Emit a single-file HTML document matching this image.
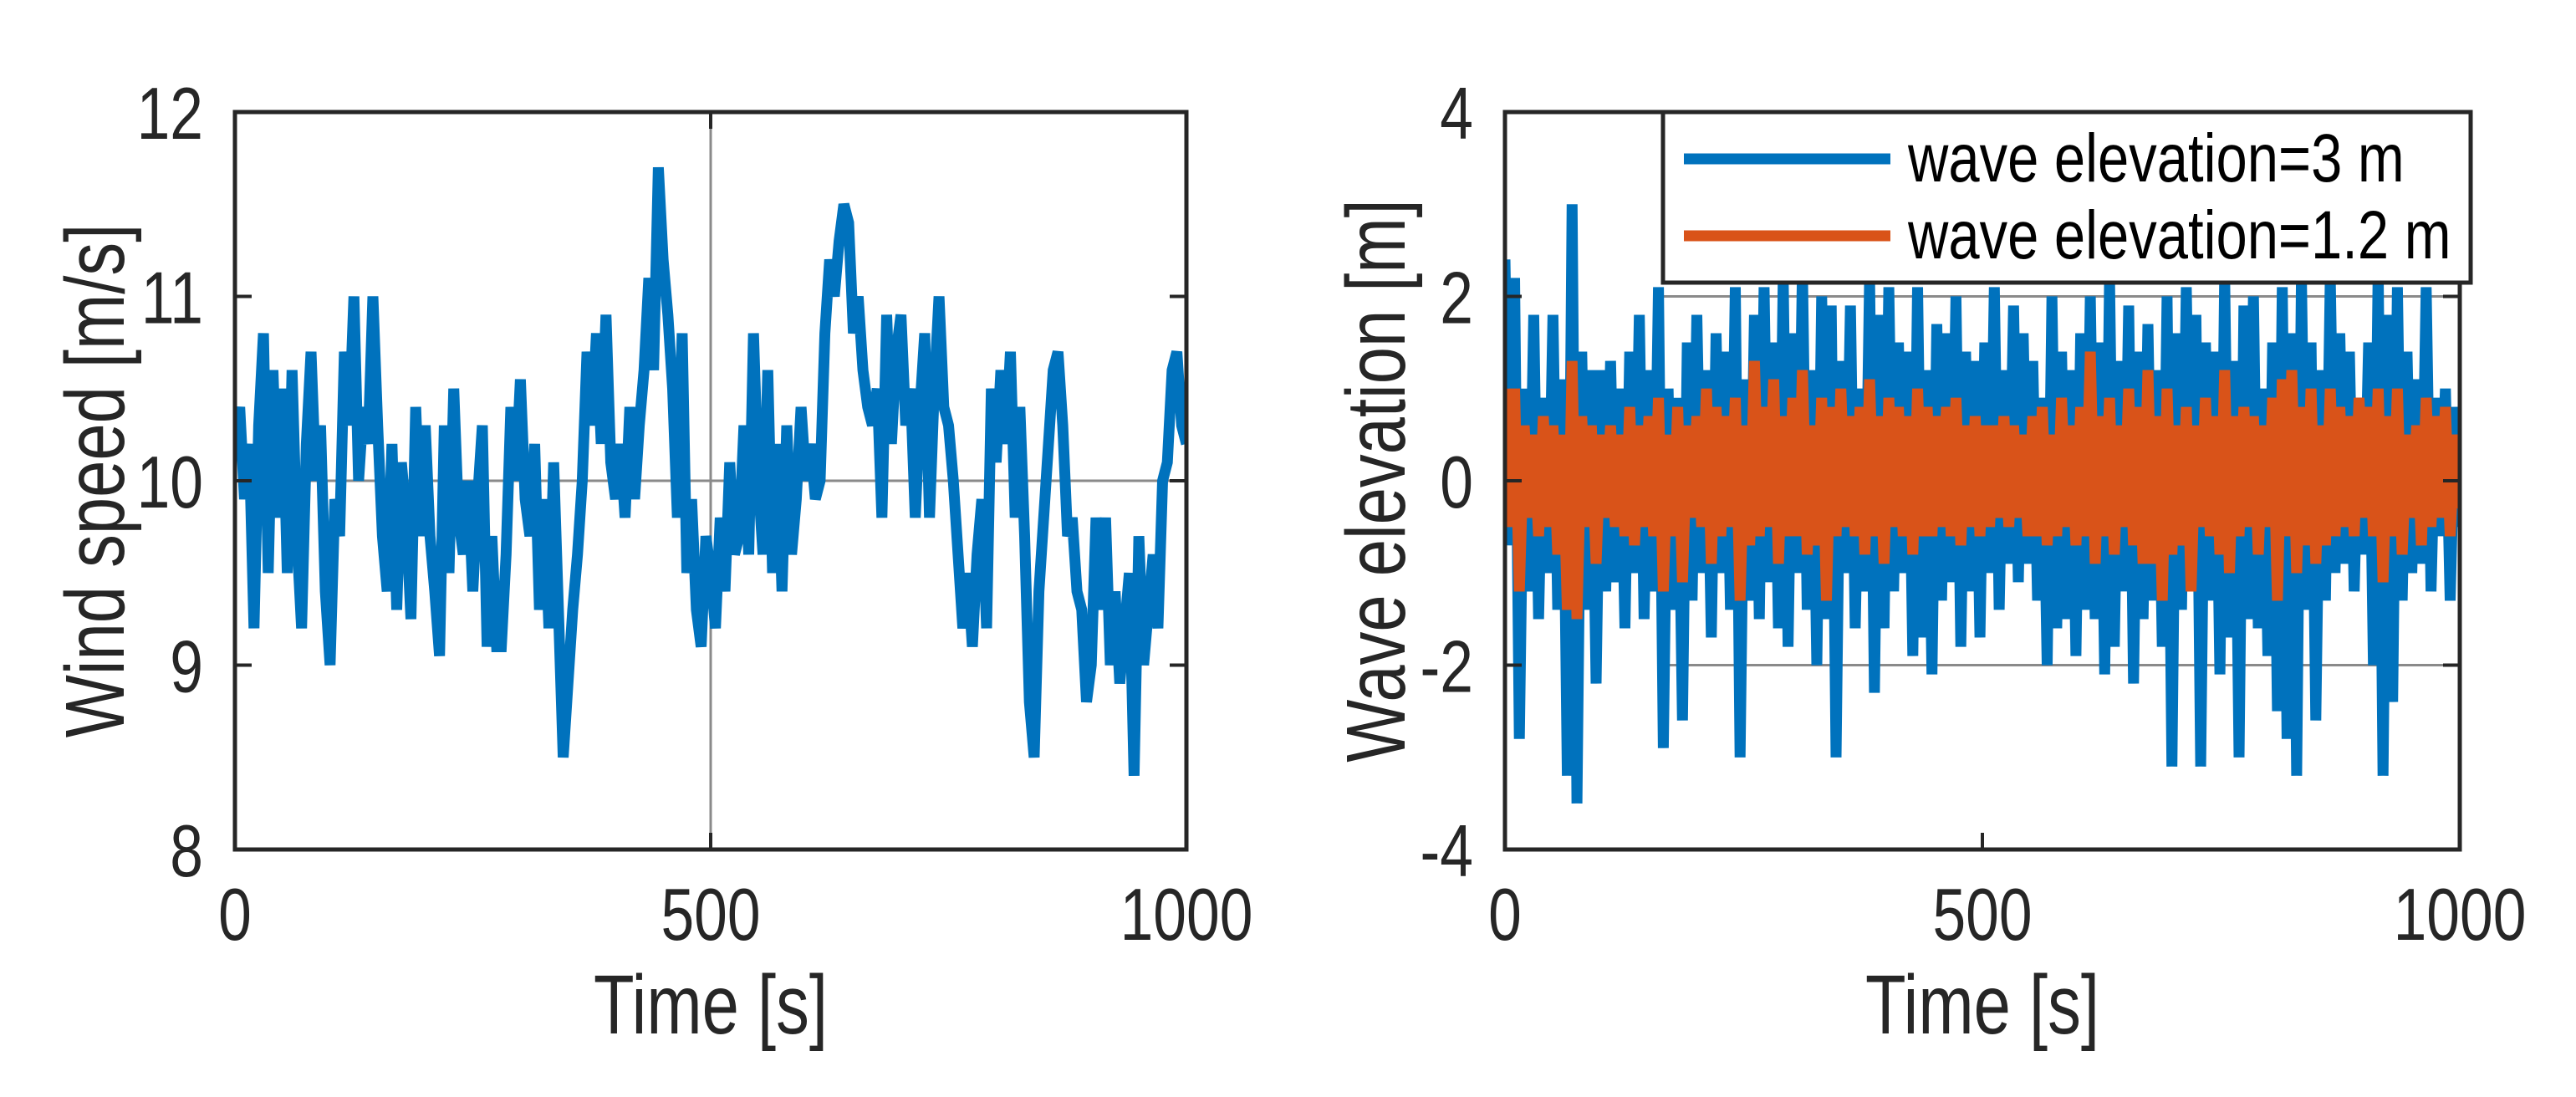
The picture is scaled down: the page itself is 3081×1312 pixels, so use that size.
<!DOCTYPE html>
<html><head><meta charset="utf-8"><style>
html,body{margin:0;padding:0;background:#fff;}
svg{display:block;font-family:"Liberation Sans",Arial,sans-serif;}
</style></head><body>
<svg id="chart" width="3081" height="1312" viewBox="0 0 3081 1312" xmlns="http://www.w3.org/2000/svg"></svg>
<script>
const windValues=[10.2,10.4,9.9,10.2,9.2,10.3,10.8,9.5,10.6,9.8,
10.5,9.5,10.6,9.7,9.2,10.2,10.7,10.0,10.3,9.4,
9.0,9.9,9.7,10.7,10.3,11.0,10.0,10.4,10.2,11.0,
10.3,9.7,9.4,10.2,9.3,10.1,9.8,9.25,10.4,9.7,
10.3,9.7,9.4,9.05,10.3,9.5,10.5,9.8,9.6,10.0,
9.4,9.9,10.3,9.1,9.7,9.1,9.1,9.6,10.4,10.0,
10.55,9.9,9.7,10.2,9.3,9.9,9.2,10.1,9.3,8.5,
8.9,9.3,9.6,10.0,10.7,10.3,10.8,10.2,10.9,10.1,
9.9,10.2,9.8,10.4,9.9,10.3,10.6,11.1,10.6,11.7,
11.2,10.9,10.5,9.8,10.8,9.5,9.9,9.3,9.1,9.7,
9.5,9.2,9.8,9.4,10.1,9.6,9.7,10.3,9.6,10.8,
10.0,9.6,10.6,9.5,10.2,9.4,10.3,9.6,9.9,10.4,
10.0,10.2,9.9,10.0,10.8,11.2,11.0,11.3,11.5,11.4,
10.8,11.0,10.6,10.4,10.3,10.5,9.8,10.9,10.2,10.7,
10.9,10.3,10.5,9.8,10.4,10.8,9.8,10.5,11.0,10.4,
10.3,10.0,9.6,9.2,9.5,9.1,9.6,9.9,9.2,10.5,
10.1,10.6,10.2,10.7,9.8,10.4,9.7,8.8,8.5,9.4,
9.8,10.2,10.6,10.7,10.3,9.7,9.8,9.4,9.3,8.8,
9.0,9.8,9.3,9.8,9.0,9.4,8.9,9.2,9.5,8.4,
9.7,9.0,9.3,9.6,9.2,10.0,10.1,10.6,10.7,10.3,10.2];
const wave3Values=[2.4,-0.7,2.2,-2.8,1.0,-1.2,1.8,-1.5,0.9,-1.0,
1.8,-1.4,1.1,-3.2,3.0,-3.5,1.4,-1.4,1.2,-2.2,
1.2,-1.2,1.3,-1.1,1.0,-1.6,1.4,-1.0,1.8,-1.5,
1.2,-1.2,2.1,-2.9,1.0,-1.4,0.9,-2.6,1.5,-1.3,
1.8,-1.0,1.2,-1.7,1.6,-1.0,1.4,-1.4,2.1,-3.0,
1.1,-1.3,1.8,-1.5,2.1,-1.1,1.5,-1.6,2.2,-1.8,
1.6,-1.0,2.3,-1.4,1.2,-2.0,2.0,-1.5,1.9,-3.0,
1.3,-1.0,1.9,-1.6,1.0,-1.2,2.2,-2.3,1.8,-1.6,
2.1,-1.2,1.5,-1.0,1.4,-1.9,2.1,-1.7,1.2,-2.1,
1.7,-1.3,1.6,-1.1,2.0,-1.8,1.4,-1.2,1.3,-1.7,
1.5,-1.0,2.1,-1.4,1.2,-0.9,1.9,-1.1,1.6,-0.9,
1.3,-1.3,0.9,-2.0,2.0,-1.6,1.4,-1.5,1.2,-1.9,
1.6,-1.4,2.0,-1.5,1.5,-2.1,2.2,-1.8,1.3,-1.2,
1.9,-2.2,1.4,-1.5,1.7,-1.3,1.2,-1.8,2.0,-3.1,
1.6,-1.4,2.1,-1.2,1.8,-3.1,1.5,-1.3,1.4,-2.1,
2.2,-1.7,1.3,-3.0,1.9,-1.5,2.0,-1.6,1.0,-1.9,
1.5,-2.5,2.1,-2.8,1.6,-3.2,2.2,-1.4,1.5,-2.6,
1.2,-1.3,2.2,-1.0,1.6,-0.9,1.4,-1.2,0.9,-0.8,
1.5,-2.0,2.3,-3.2,1.8,-2.4,2.1,-1.3,1.4,-1.0,
1.1,-0.9,2.1,-1.2,0.9,-0.6,1.0,-1.3,0.8,-0.5];
const wave12Values=[1.0,-0.5,1.0,-1.2,0.6,-0.4,0.5,-0.6,0.7,-0.5,
0.6,-0.8,0.5,-1.4,1.3,-1.5,0.7,-0.5,0.6,-0.9,
0.5,-0.4,0.6,-0.5,0.5,-0.6,0.8,-0.7,0.6,-0.5,
0.7,-0.6,0.9,-1.2,0.5,-0.6,0.8,-1.1,0.6,-0.4,
0.7,-0.5,1.0,-0.9,0.8,-0.6,0.7,-0.5,0.9,-1.3,
0.6,-0.7,1.3,-0.6,0.8,-0.5,1.1,-0.9,0.7,-0.6,
0.9,-0.6,1.2,-0.8,0.6,-0.7,0.9,-1.3,0.8,-0.6,
1.0,-0.5,0.7,-0.6,0.8,-0.8,1.1,-0.6,0.7,-0.9,
0.9,-0.5,0.8,-0.6,0.7,-0.8,1.0,-0.6,0.8,-0.6,
0.7,-0.5,0.8,-0.6,0.9,-0.7,0.6,-0.5,0.7,-0.6,
0.6,-0.5,0.6,-0.4,0.7,-0.5,0.6,-0.4,0.5,-0.6,
0.7,-0.6,0.8,-0.7,0.5,-0.6,0.9,-0.5,0.6,-0.7,
0.8,-0.6,1.4,-0.9,0.7,-0.6,0.9,-0.8,0.6,-0.5,
1.0,-0.7,0.8,-0.9,1.2,-0.9,0.7,-1.3,1.0,-0.8,
0.6,-0.7,0.8,-1.2,0.6,-0.5,0.9,-0.6,0.7,-0.8,
1.2,-1.0,0.7,-0.6,0.8,-0.5,0.7,-0.8,0.6,-0.5,
0.9,-1.3,1.1,-0.6,1.2,-1.0,0.8,-0.7,1.0,-0.9,
0.6,-0.7,1.0,-0.6,0.8,-0.5,0.7,-0.6,0.9,-0.4,
0.8,-0.6,1.0,-1.1,0.7,-0.6,1.0,-0.8,0.5,-0.4,
0.6,-0.7,0.9,-0.5,0.7,-0.4,0.8,-0.6,0.5,-0.3];
const xTicks=[0,500,1000];
const xTickLabels=["0","500","1000"];
const windTicks=[8,9,10,11,12];
const windTickLabels=["8","9","10","11","12"];
const waveTicks=[-4,-2,0,2,4];
const waveTickLabels=["-4","-2","0","2","4"];
const legendLabels=["wave elevation=3 m","wave elevation=1.2 m"];

const NS="http://www.w3.org/2000/svg";
const svg=document.getElementById('chart');
function mk(tag,attrs,parent){const e=document.createElementNS(NS,tag);for(const k in attrs)e.setAttribute(k,attrs[k]);(parent||svg).appendChild(e);return e;}
function narrow(t,baseSize,bigSize,widthFactor){
  t.setAttribute('font-size',baseSize);
  const w=t.getComputedTextLength()*widthFactor;
  t.setAttribute('font-size',bigSize);
  t.setAttribute('textLength',w.toFixed(1));
  t.setAttribute('lengthAdjust','spacingAndGlyphs');
}

function panel(p){
  const g=mk('g',{});
  
  
  const sx=v=>p.x0+(v-p.xmin)/(p.xmax-p.xmin)*(p.x1-p.x0);
  const sy=v=>p.y1-(v-p.ymin)/(p.ymax-p.ymin)*(p.y1-p.y0);
  mk('rect',{x:p.x0,y:p.y0,width:p.x1-p.x0,height:p.y1-p.y0,fill:'#fff'},g);
  const clip=mk('clipPath',{id:p.name+'-clip'},g);
  mk('rect',{x:p.x0,y:p.y0,width:p.x1-p.x0,height:p.y1-p.y0},clip);
  p.grid.forEach(gr=>{
    const l=mk('line',gr.v?{x1:sx(gr.v),x2:sx(gr.v),y1:p.y0,y2:p.y1}:{x1:gr.from||p.x0,x2:p.x1,y1:sy(gr.h),y2:sy(gr.h)},g);
    l.setAttribute('stroke','#8a8a8a');l.setAttribute('stroke-width','3');
    
    
  });
  p.series.forEach(s=>{
    const n=s.values.length;
    const pts=s.values.map((v,i)=>sx(p.xmin+i*(p.xmax-p.xmin)/(n-1)).toFixed(1)+','+sy(v).toFixed(1)).join(' ');
    const pl=mk('polyline',{points:pts,fill:'none',stroke:s.color,'stroke-width':13,'stroke-linejoin':'miter','clip-path':'url(#'+p.name+'-clip)'},g);
    
    
  });
  mk('rect',{x:p.x0,y:p.y0,width:p.x1-p.x0,height:p.y1-p.y0,fill:'none',stroke:'#262626','stroke-width':5},g);
  xTicks.forEach((t,i)=>{
    const x=sx(t);
    mk('line',{x1:x,x2:x,y1:p.y1,y2:p.y1-20,stroke:'#262626','stroke-width':4},g);
    mk('line',{x1:x,x2:x,y1:p.y0,y2:p.y0+20,stroke:'#262626','stroke-width':4},g);
    const tx=mk('text',{x:x,y:p.y1+108,'text-anchor':'middle',fill:'#262626'},g);
    tx.textContent=xTickLabels[i];
    
    
    narrow(tx,68,88,1.05);
  });
  p.yTicks.forEach((t,i)=>{
    const y=sy(t);
    mk('line',{x1:p.x0,x2:p.x0+20,y1:y,y2:y,stroke:'#262626','stroke-width':4},g);
    mk('line',{x1:p.x1,x2:p.x1-20,y1:y,y2:y,stroke:'#262626','stroke-width':4},g);
    const tx=mk('text',{x:p.x0-38,y:y+32,'text-anchor':'end',fill:'#262626'},g);
    tx.textContent=p.yLabels[i];
    
    
    narrow(tx,68,88,1.05);
  });
  const xt=mk('text',{x:(p.x0+p.x1)/2,y:1236,'text-anchor':'middle',fill:'#262626'},g);
  xt.textContent='Time [s]';
  
  
  narrow(xt,78,100,1.02);
  const cy=(p.y0+p.y1)/2;
  const yt=mk('text',{x:p.ytx,y:cy,'text-anchor':'middle',fill:'#262626',transform:'rotate(-90 '+p.ytx+' '+cy+')'},g);
  yt.textContent=p.ytitle;
  
  
  narrow(yt,78,100,1.02);
  return {g,sx,sy};
}

panel({name:'wind-speed-plot',x0:281,x1:1419,y0:134,y1:1016,xmin:0,xmax:1000,ymin:8,ymax:12,
  yTicks:windTicks,yLabels:windTickLabels,ytitle:'Wind speed [m/s]',ytx:148,
  grid:[{h:10},{v:500}],
  series:[{name:'wind-speed-line',values:windValues,color:'#0072BD'}]});

panel({name:'wave-elevation-plot',x0:1800,x1:2942,y0:134,y1:1016,xmin:0,xmax:1000,ymin:-4,ymax:4,
  yTicks:waveTicks,yLabels:waveTickLabels,ytitle:'Wave elevation [m]',ytx:1680,
  grid:[{h:2,from:1989},{h:-2,from:1989}],
  series:[{name:'wave-3m-line',values:wave3Values,color:'#0072BD'},{name:'wave-1.2m-line',values:wave12Values,color:'#D95319'}]});

const lg=mk('g',{});


mk('rect',{x:1989,y:134,width:966,height:204,fill:'#fff',stroke:'#262626','stroke-width':5},lg);
const colors=['#0072BD','#D95319'];
legendLabels.forEach((lab,i)=>{
  const y=190+i*92;
  const e=mk('g',{},lg);
  
  
  mk('line',{x1:2014,x2:2261,y1:y,y2:y,stroke:colors[i],'stroke-width':13},e);
  const t=mk('text',{x:2282,y:y+27,fill:'#000'},e);
  t.textContent=lab;
  narrow(t,72,82,0.93);
});
</script>
</body></html>
